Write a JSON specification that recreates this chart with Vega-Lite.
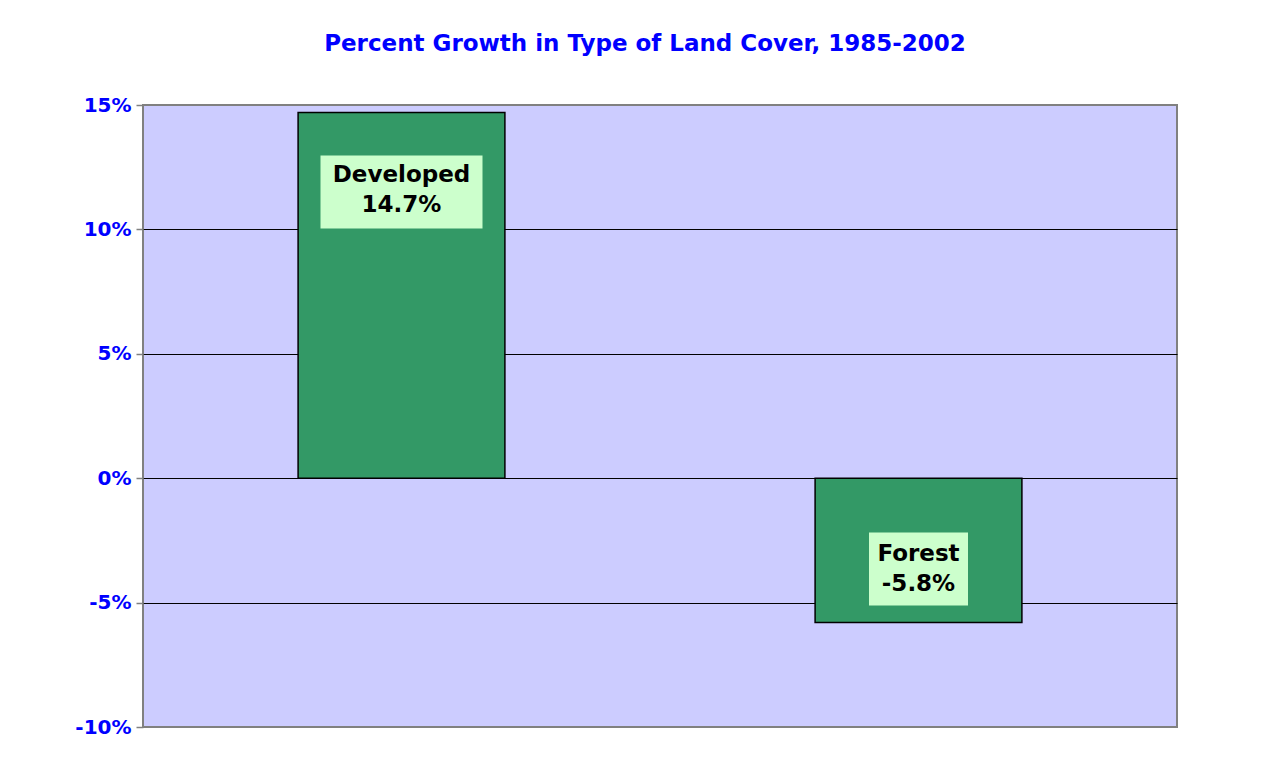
{
  "$schema": "https://vega.github.io/schema/vega-lite/v6.json",
  "width": 1034,
  "height": 622,
  "autosize": "none",
  "padding": {"left": 143, "top": 105, "right": 103, "bottom": 31},
  "background": "white",
  "title": {
    "text": "Percent Growth in Type of Land Cover, 1985-2002",
    "font": "DejaVu Sans",
    "fontSize": 23,
    "fontWeight": "bold",
    "color": "#0000FF",
    "anchor": "middle",
    "frame": "group",
    "dx": -15,
    "offset": 16,
    "baseline": "bottom"
  },
  "config": {"view": {"fill": "#CCCCFF", "stroke": "#808080", "strokeWidth": 2}},
  "data": {"values": [
    {"type": "Developed", "value": 0.147},
    {"type": "Forest", "value": -0.058}
  ]},
  "transform": [{"calculate": "datum.type + '\\n' + replace(format(datum.value, '.1%'), '\u2212', '-')", "as": "label"}],
  "encoding": {
    "x": {"field": "type", "type": "nominal", "sort": null, "scale": {"paddingInner": 0.6, "paddingOuter": 0.3}, "axis": null}
  },
  "layer": [
    {
      "mark": {"type": "bar", "fill": "#339966", "stroke": "black", "strokeWidth": 1.5},
      "encoding": {
        "y": {
          "field": "value", "type": "quantitative",
          "scale": {"domain": [-0.1, 0.15], "nice": false, "zero": false},
          "axis": {
            "labelExpr": "replace(format(datum.value, '.0%'), '\u2212', '-')",
            "values": [-0.1, -0.05, 0, 0.05, 0.1, 0.15],
            "grid": true,
            "gridColor": {"condition": {"test": "datum.value > 0.14 || datum.value < -0.09", "value": "#808080"}, "value": "black"},
            "gridWidth": 1, "domain": false,
            "tickColor": "#808080", "tickSize": 7, "tickWidth": 1.5,
            "labelFont": "DejaVu Sans", "labelFontSize": 20, "labelFontWeight": "bold",
            "labelColor": "#0000FF", "labelPadding": 5, "title": null, "zindex": 0
          }
        }
      }
    },
    {
      "transform": [{"filter": "datum.type == 'Developed'"}],
      "mark": {"type": "bar", "fill": "#CCFFCC", "width": 162, "yOffset": 43, "y2Offset": 116},
      "encoding": {"y": {"field": "value", "type": "quantitative"}, "y2": {"field": "value"}}
    },
    {
      "transform": [{"filter": "datum.type == 'Forest'"}],
      "mark": {"type": "bar", "fill": "#CCFFCC", "width": 99, "yOffset": -90, "y2Offset": -17},
      "encoding": {"y": {"field": "value", "type": "quantitative"}, "y2": {"field": "value"}}
    },
    {
      "transform": [{"filter": "datum.type == 'Developed'"}],
      "mark": {"type": "text", "font": "DejaVu Sans", "fontSize": 23, "fontWeight": "bold", "color": "black", "baseline": "alphabetic", "lineBreak": "\n", "lineHeight": 30, "dy": 70, "align": "center"},
      "encoding": {"y": {"field": "value", "type": "quantitative"}, "text": {"field": "label"}}
    },
    {
      "transform": [{"filter": "datum.type == 'Forest'"}],
      "mark": {"type": "text", "font": "DejaVu Sans", "fontSize": 23, "fontWeight": "bold", "color": "black", "baseline": "alphabetic", "lineBreak": "\n", "lineHeight": 30, "dy": -62, "align": "center"},
      "encoding": {"y": {"field": "value", "type": "quantitative"}, "text": {"field": "label"}}
    }
  ]
}
